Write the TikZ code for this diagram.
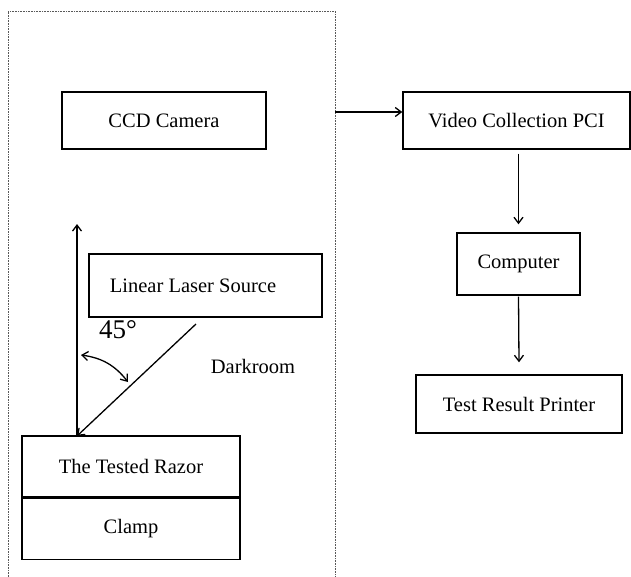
\documentclass[tikz,border=0pt]{standalone}
\usepackage{fontspec}
\setmainfont{Liberation Serif}
\usetikzlibrary{arrows.meta}
\begin{document}
\begin{tikzpicture}[x=1pt,y=-1pt,
  box/.style={draw,line width=1.4pt,rectangle,inner sep=0pt,font=\fontsize{20.5}{24}\selectfont},
  txt/.style={inner sep=0pt,font=\fontsize{20.5}{24}\selectfont},
  conn/.style={line width=1.3pt,-{Straight Barb[length=6pt,width=9pt]}},
  frame/.style={densely dotted,line width=0.6pt,gray!70!black}]
\useasboundingbox (0,0) rectangle (631,576);
% dotted darkroom frame
\draw[frame] (8,577) -- (8,11) -- (335,11) -- (335,577);
\coordinate (fr) at (335,112);
% boxes
\node[box,minimum width=204pt,minimum height=57pt] (ccd) at (164,120.5) {CCD Camera};
\node[box,minimum width=233pt,minimum height=63pt] (laser) at (205.5,285.5) {};
\node[txt] (lasertxt) at (193,286) {Linear Laser Source};
\node[box,minimum width=218pt,minimum height=61pt] (razor) at (131,466.5) {The Tested Razor};
\node[box,minimum width=218pt,minimum height=61pt,anchor=north] (clamp) at (razor.south) {Clamp};
\node[box,minimum width=227pt,minimum height=57pt] (pci) at (516.5,120.5) {Video Collection PCI};
\node[box,minimum width=123pt,minimum height=62pt] (comp) at (518.5,264) {Computer};
\node[box,minimum width=206pt,minimum height=58pt] (printer) at (519,404) {Test Result Printer};
% labels
\node[txt,font=\fontsize{27}{30}\selectfont] (deg) at (118,330) {45°};
\node[txt] (dark) at (253,366) {Darkroom};
% connectors
\draw[conn] (fr) -- (pci.west |- fr);
\draw[conn] ([yshift=-4pt]pci.south -| comp.north) -- ([yshift=8pt]comp.north);
\draw[conn] ([yshift=-1pt]comp.south) -- ([yshift=12pt]printer.north);
% laser beam and reflection normal
\coordinate (hit) at (77,436);
\coordinate (beamstart) at (196,324);
\coordinate (normaltop) at (77,224);
\draw[conn] (hit) -- (normaltop);
\draw[conn] (beamstart) -- (hit);
% angle marker
\coordinate (a1) at (81,355);
\coordinate (a2) at (128,382);
\draw[line width=1.3pt,{Straight Barb[length=6pt,width=9pt]}-{Straight Barb[length=6pt,width=9pt]}] (a1) to[bend left=22] (a2);
\end{tikzpicture}
\end{document}
